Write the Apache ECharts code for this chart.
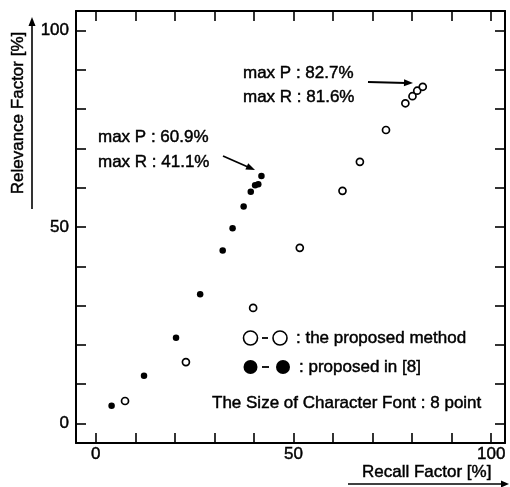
<!DOCTYPE html>
<html>
<head>
<meta charset="utf-8">
<script src="https://cdn.jsdelivr.net/npm/echarts@6/dist/echarts.min.js"></script>
<style>html,body{margin:0;padding:0;background:#fff;}#c{width:510px;height:487px;}</style>
</head>
<body>
<div id="c"></div>
<script>
// Open circles: the proposed method  [recall, relevance]
const proposedRecall    = [7.4, 22.8, 39.8, 51.6, 62.4, 66.8, 73.4, 78.3, 80.1, 81.3, 82.7];
const proposedRelevance = [5.7, 15.6, 29.4, 44.7, 59.2, 66.6, 74.7, 81.5, 83.3, 84.7, 85.7];
// Filled circles: proposed in [8]
const refRecall    = [4.0, 12.2, 20.3, 26.4, 32.1, 34.6, 37.4, 39.2, 40.3, 41.1, 41.9];
const refRelevance = [4.5, 12.1, 21.8, 32.9, 44.0, 49.7, 55.2, 59.0, 60.6, 60.9, 63.0];
// Ticks
const tickValues  = [0, 10, 20, 30, 40, 50, 60, 70, 80, 90, 100];
const labelValues = [0, 50, 100];

const FONT = '"Liberation Sans", Arial, Helvetica, sans-serif';
const INK = '#000';
const TS = 0.45; // slight text stroke to mimic heavier print

const zip = (a, b) => a.map((v, i) => [v, b[i]]);

function labelStyle(extra) {
  return Object.assign({ show: true, customValues: labelValues, color: INK, fontFamily: FONT, fontSize: 17,
    textBorderColor: INK, textBorderWidth: TS }, extra);
}
function axisBase(extra) {
  return Object.assign({
    type: 'value',
    splitLine: { show: false },
    axisLine: { show: true, onZero: false, lineStyle: { color: INK, width: 2 } },
    axisTick: { show: true, inside: true, length: 10, customValues: tickValues, lineStyle: { color: INK, width: 1.6 } },
    axisLabel: { show: false }
  }, extra);
}

const chart = echarts.init(document.getElementById('c'), null, { renderer: 'canvas' });

function txt(x, y, s) {
  return { type: 'text', x: x, y: y,
    style: { text: s, fill: INK, stroke: INK, lineWidth: TS, font: '17px ' + FONT, textAlign: 'left', textVerticalAlign: 'middle' } };
}
function line(x1, y1, x2, y2, w) {
  return { type: 'line', shape: { x1: x1, y1: y1, x2: x2, y2: y2 }, style: { stroke: INK, lineWidth: w || 1.6 } };
}
function head(x, y, ang, len, wid) {
  const c = Math.cos(ang), s = Math.sin(ang);
  const bx = x - c * len, by = y - s * len;
  return { type: 'polygon', shape: { points: [[x, y], [bx - s * wid, by + c * wid], [bx + s * wid, by - c * wid]] }, style: { fill: INK } };
}

const option = {
  backgroundColor: '#fff',
  animation: false,
  grid: { left: 76, top: 11, right: 5, bottom: 44, containLabel: false },
  xAxis: [
    axisBase({ position: 'bottom', min: -5, max: 103.5, axisLabel: labelStyle({ margin: 3 }) }),
    axisBase({ position: 'top', min: -5, max: 103.5 })
  ],
  yAxis: [
    axisBase({ position: 'left', min: -5, max: 105, axisLabel: labelStyle({ margin: 7 }) }),
    axisBase({ position: 'right', min: -5, max: 105 })
  ],
  series: [
    {
      name: 'the proposed method', type: 'scatter', xAxisIndex: 0, yAxisIndex: 0,
      data: zip(proposedRecall, proposedRelevance),
      symbol: 'circle', symbolSize: 7,
      itemStyle: { color: '#fff', borderColor: INK, borderWidth: 1.7, opacity: 1 }
    },
    {
      name: 'proposed in [8]', type: 'scatter', xAxisIndex: 0, yAxisIndex: 0,
      data: zip(refRecall, refRelevance),
      symbol: 'circle', symbolSize: 6.5,
      itemStyle: { color: INK, opacity: 1 }
    }
  ],
  graphic: [
    // annotations
    txt(243, 73, 'max P : 82.7%'),
    txt(243, 97, 'max R : 81.6%'),
    line(368, 82, 406, 83, 1.8), head(413, 83, 0.03, 9, 3.5),
    txt(98, 137, 'max P : 60.9%'),
    txt(98, 162, 'max R : 41.1%'),
    line(223, 156, 248, 167, 1.8), head(255, 170, 0.42, 9, 3.5),
    // legend
    { type: 'circle', shape: { cx: 250.5, cy: 338, r: 7 }, style: { fill: '#fff', stroke: INK, lineWidth: 1.6 } },
    line(262, 338, 268, 338, 1.8),
    { type: 'circle', shape: { cx: 280, cy: 338, r: 7 }, style: { fill: '#fff', stroke: INK, lineWidth: 1.6 } },
    txt(296, 338, ': the proposed method'),
    { type: 'circle', shape: { cx: 250.5, cy: 367, r: 7 }, style: { fill: INK } },
    line(262, 367, 269, 367, 1.8),
    { type: 'circle', shape: { cx: 283, cy: 367, r: 7 }, style: { fill: INK } },
    txt(299, 367, ': proposed in [8]'),
    txt(212, 403, 'The Size of Character Font : 8 point'),
    // axis titles
    txt(362, 472, 'Recall Factor [%]'),
    line(348, 484, 503, 484), head(509, 484, 0, 8, 3.5),
    { type: 'text', x: 18, y: 113, rotation: Math.PI / 2,
      style: { text: 'Relevance Factor [%]', fill: INK, stroke: INK, lineWidth: TS, font: '17px ' + FONT, textAlign: 'center', textVerticalAlign: 'middle' } },
    line(32, 209, 32, 25), head(32, 17, -Math.PI / 2, 9, 3.5)
  ]
};
chart.setOption(option);
</script>
</body>
</html>
